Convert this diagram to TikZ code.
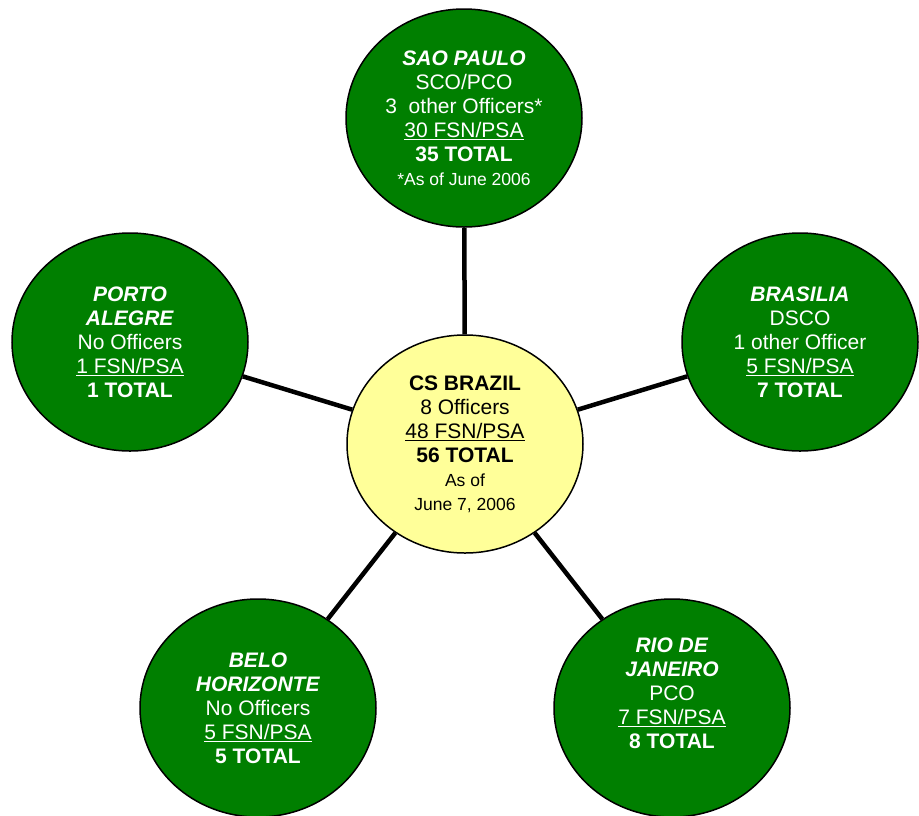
\documentclass[tikz,border=0pt]{standalone}
\usepackage{fontspec}
\setmainfont{Liberation Sans}
\usetikzlibrary{shapes.geometric,backgrounds}
\definecolor{postgreen}{HTML}{007F00}
\definecolor{hubyellow}{HTML}{FFFF99}
\newsavebox{\ulbox}
\newcommand{\thickul}[1]{\sbox{\ulbox}{#1}\rlap{\rule[-3.2pt]{\wd\ulbox}{1.4pt}}\usebox{\ulbox}}
\newcommand{\cityname}[1]{\textbf{\textit{#1}}}
\newcommand{\smalltext}{\fontsize{17.5}{21}\selectfont}
\tikzset{
  citynode/.style={ellipse, draw=black, line width=1.5pt, fill=postgreen, text=white, minimum width=236pt, minimum height=218pt, inner sep=0pt, align=center, font=\fontsize{21}{24}\selectfont},
  hubnode/.style={citynode, fill=hubyellow, text=black},
  citytext/.style={text=white, align=center, inner sep=0pt, font=\fontsize{21}{24}\selectfont},
  linkline/.style={black, line width=4.5pt}
}
\begin{document}
\begin{tikzpicture}[x=1pt, y=-1pt]
  \useasboundingbox (0,0) rectangle (919,815);
  \node[hubnode] (hub) at (465,444) {\textbf{CS BRAZIL}\\ 8 Officers\\ \thickul{48 FSN/PSA}\\ \textbf{56 TOTAL}\\ {\smalltext As of}\\ {\smalltext June 7, 2006}};
  \node[citynode] (saopaulo) at (464,118) {\cityname{SAO PAULO}\\ SCO/PCO\\ 3\ \ other Officers*\\ \thickul{30 FSN/PSA}\\ \textbf{35 TOTAL}\\ {\smalltext *As of June 2006}};
  \node[citynode] (portoalegre) at (130,342) {\cityname{PORTO}\\ \cityname{ALEGRE}\\ No Officers\\ \thickul{1 FSN/PSA}\\ \textbf{1 TOTAL}};
  \node[citynode] (brasilia) at (800,342) {\cityname{BRASILIA}\\ DSCO\\ 1 other Officer\\ \thickul{5 FSN/PSA}\\ \textbf{7 TOTAL}};
  \node[citynode] (belo) at (258,708) {\cityname{BELO}\\ \cityname{HORIZONTE}\\ No Officers\\ \thickul{5 FSN/PSA}\\ \textbf{5 TOTAL}};
  \node[citynode] (rio) at (672,708) {};
  \node[citytext] (riotext) at (672,693) {\cityname{RIO DE}\\ \cityname{JANEIRO}\\ PCO\\ \thickul{7 FSN/PSA}\\ \textbf{8 TOTAL}};
  % spokes from the hub
  \begin{scope}[on background layer]
    \draw[linkline] (hub) -- (saopaulo);
    \draw[linkline] (hub) -- (portoalegre);
    \draw[linkline] (hub) -- (brasilia);
    \draw[linkline] (hub) -- (belo);
    \draw[linkline] (hub) -- (rio);
  \end{scope}
\end{tikzpicture}
\end{document}
